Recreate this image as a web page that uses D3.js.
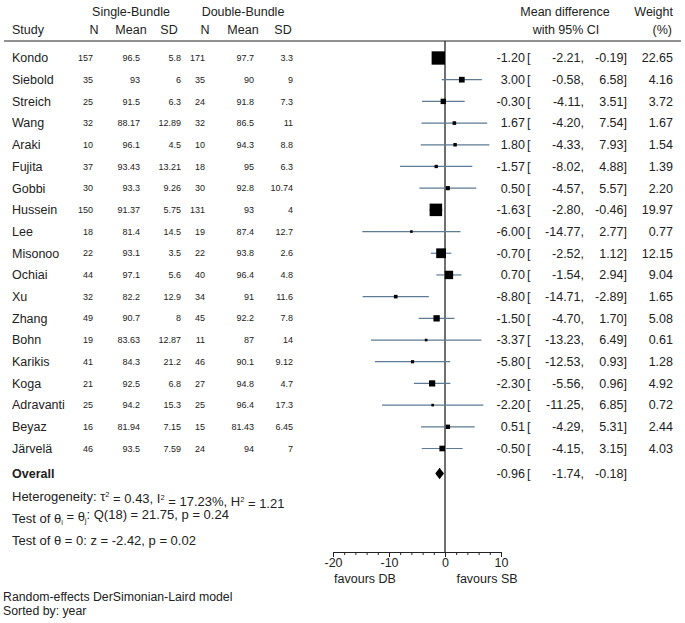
<!DOCTYPE html>
<html><head><meta charset="utf-8">
<script src="https://cdn.jsdelivr.net/npm/d3@7"></script>
<style>body{margin:0;background:#fff}svg{display:block}text{font-family:"Liberation Sans",Arial,sans-serif;fill:#222}</style>
</head><body><svg id="c" width="685" height="623"></svg>
<script>
const studies=["Kondo","Siebold","Streich","Wang","Araki","Fujita","Gobbi","Hussein","Lee","Misonoo","Ochiai","Xu","Zhang","Bohn","Karikis","Koga","Adravanti","Beyaz","Järvelä"];
const n1=[157,35,25,32,10,37,30,150,18,22,44,32,49,19,41,21,25,16,46];
const mean1=[96.5,93,91.5,88.17,96.1,93.43,93.3,91.37,81.4,93.1,97.1,82.2,90.7,83.63,84.3,92.5,94.2,81.94,93.5];
const sd1=[5.8,6,6.3,12.89,4.5,13.21,9.26,5.75,14.5,3.5,5.6,12.9,8,12.87,21.2,6.8,15.3,7.15,7.59];
const n2=[171,35,24,32,10,18,30,131,19,22,40,34,45,11,46,27,25,15,24];
const mean2=[97.7,90,91.8,86.5,94.3,95,92.8,93,87.4,93.8,96.4,91,92.2,87,90.1,94.8,96.4,81.43,94];
const sd2=[3.3,9,7.3,11,8.8,6.3,10.74,4,12.7,2.6,4.8,11.6,7.8,14,9.12,4.7,17.3,6.45,7];
const md=[-1.20,3.00,-0.30,1.67,1.80,-1.57,0.50,-1.63,-6.00,-0.70,0.70,-8.80,-1.50,-3.37,-5.80,-2.30,-2.20,0.51,-0.50];
const lo=[-2.21,-0.58,-4.11,-4.20,-4.33,-8.02,-4.57,-2.80,-14.77,-2.52,-1.54,-14.71,-4.70,-13.23,-12.53,-5.56,-11.25,-4.29,-4.15];
const hi=[-0.19,6.58,3.51,7.54,7.93,4.88,5.57,-0.46,2.77,1.12,2.94,-2.89,1.70,6.49,0.93,0.96,6.85,5.31,3.15];
const weight=[22.65,4.16,3.72,1.67,1.54,1.39,2.20,19.97,0.77,12.15,9.04,1.65,5.08,0.61,1.28,4.92,0.72,2.44,4.03];
const overall={md:-0.96,lo:-1.74,hi:-0.18};
const xTicks=[-20,-10,0,10];
const minorTicks=[-20,-18,-16,-14,-12,-10,-8,-6,-4,-2,0,2,4,6,8,10];

const svg=d3.select("#c");
svg.append("rect").attr("width",685).attr("height",623).attr("fill","#fff");
const x=d3.scaleLinear().domain([-20,10]).range([333,501]);
const y=d3.scalePoint().domain(d3.range(studies.length)).range([58,448.5]);
const FS=12.5, FSs=9;
const yOv=473.5, yAxis=552;

function t(xp,yp,s,anchor,fs,weightF){
  return svg.append("text").attr("x",xp).attr("y",yp).attr("dy","0.35em")
    .attr("text-anchor",anchor||"start").attr("font-size",fs||FS)
    .attr("font-weight",weightF||null).text(s);
}
// headers
t(131,12,"Single-Bundle","middle");
t(243,12,"Double-Bundle","middle");
t(12,30,"Study");
[[94,"N"],[131,"Mean"],[169,"SD"],[205,"N"],[243,"Mean"],[283,"SD"]].forEach(d=>t(d[0],30,d[1],"middle"));
t(565,12,"Mean difference","middle");
t(566,30,"with 95% CI","middle");
t(673,12,"Weight","end");
t(672,30,"(%)","end");
svg.append("line").attr("x1",4).attr("x2",681).attr("y1",41).attr("y2",41).attr("stroke","#222").attr("stroke-width",1);

// zero line
svg.append("line").attr("x1",x(0)).attr("x2",x(0)).attr("y1",41).attr("y2",yAxis).attr("stroke","#111").attr("stroke-width",1.2);

const cols=[[n1,93],[mean1,140],[sd1,181],[n2,205],[mean2,254],[sd2,293]];
studies.forEach((s,i)=>{
  const yy=y(i);
  t(12,yy,s);
  cols.forEach(c=>t(c[1],yy,String(c[0][i]),"end",FSs));
  svg.append("line").attr("x1",x(lo[i])).attr("x2",x(hi[i])).attr("y1",yy).attr("y2",yy)
    .attr("stroke","#5d7b93").attr("stroke-width",1.2);
  const side=Math.max(2.6,2.8*Math.sqrt(weight[i]));
  svg.append("rect").attr("x",x(md[i])-side/2).attr("y",yy-side/2).attr("width",side).attr("height",side).attr("fill","#000");
  t(525,yy,md[i].toFixed(2),"end");
  t(527,yy,"[");
  t(584,yy,lo[i].toFixed(2)+",","end");
  t(627,yy,hi[i].toFixed(2)+"]","end");
  t(673,yy,weight[i].toFixed(2),"end");
});
// overall
t(12,yOv,"Overall","start",FS,"bold");
const dh=5.8;
svg.append("path").attr("d",`M${x(overall.lo)},${yOv}L${x(overall.md)},${yOv-dh}L${x(overall.hi)},${yOv}L${x(overall.md)},${yOv+dh}Z`).attr("fill","#000");
t(525,yOv,overall.md.toFixed(2),"end");
t(527,yOv,"[");
t(584,yOv,overall.lo.toFixed(2)+",","end");
t(627,yOv,overall.hi.toFixed(2)+"]","end");

// stats
const FH=13;
const h=svg.append("text").attr("x",12).attr("y",496).attr("dy","0.35em").attr("font-size",FH);
h.append("tspan").text("Heterogeneity: τ");
h.append("tspan").attr("font-size",7.5).attr("dy","-0.45em").text("2");
h.append("tspan").attr("dy","0.45em").text(" = 0.43, I");
h.append("tspan").attr("font-size",7.5).attr("dy","-0.45em").text("2");
h.append("tspan").attr("dy","0.45em").text(" = 17.23%, H");
h.append("tspan").attr("font-size",7.5).attr("dy","-0.45em").text("2");
h.append("tspan").attr("dy","0.45em").text(" = 1.21");
const q=svg.append("text").attr("x",12).attr("y",518).attr("dy","0.35em").attr("font-size",FH);
q.append("tspan").text("Test of θ");
q.append("tspan").attr("font-size",7.5).attr("dy","0.3em").text("i");
q.append("tspan").attr("dy","-0.3em").text(" = θ");
q.append("tspan").attr("font-size",7.5).attr("dy","0.3em").text("j");
q.append("tspan").attr("dy","-0.3em").text(": Q(18) = 21.75, p = 0.24");
t(12,540,"Test of θ = 0: z = -2.42, p = 0.02","start",FH);

// axis
const ax=svg.append("g").attr("transform",`translate(0,${yAxis})`);
ax.call(d3.axisBottom(x).tickValues(xTicks).tickSize(5).tickSizeOuter(0).tickFormat(d=>String(d)));
ax.select(".domain").attr("stroke","#222");
ax.selectAll(".tick line").attr("stroke","#222");
ax.selectAll("text").attr("font-size",12.5).attr("font-family","Liberation Sans, Arial, sans-serif").attr("fill","#222").attr("y",6).attr("dy","0.71em");
const mx=svg.append("g").attr("transform",`translate(0,${yAxis})`);
mx.call(d3.axisBottom(x).tickValues(minorTicks).tickSize(3).tickFormat(""));
mx.select(".domain").remove();
mx.selectAll(".tick line").attr("stroke","#222");
t(365,579,"favours DB","middle",12.5);
t(487,579,"favours SB","middle",12.5);

// notes
t(3,597,"Random-effects DerSimonian-Laird model","start",12.3);
t(3,611,"Sorted by: year","start",12.3);
</script></body></html>
